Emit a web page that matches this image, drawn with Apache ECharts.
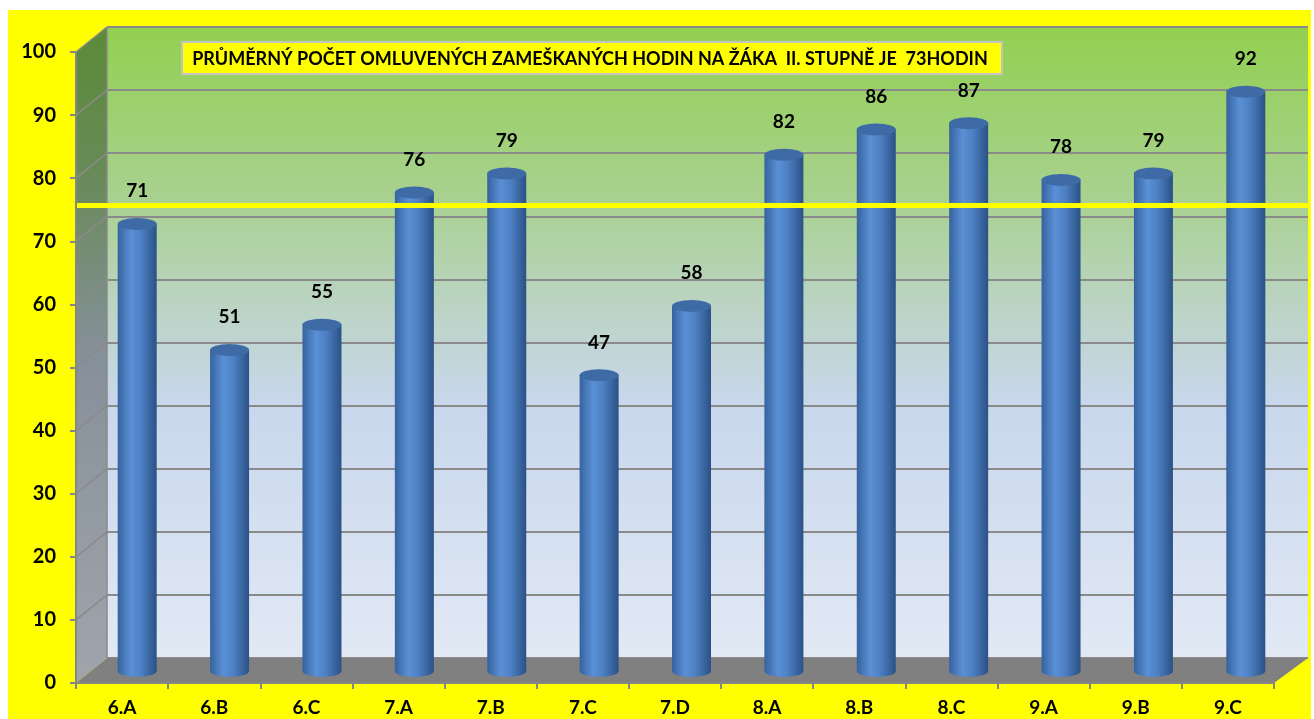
<!DOCTYPE html>
<html>
<head>
<meta charset="utf-8">
<title>Omluvené zameškané hodiny</title>
<script src="https://cdn.jsdelivr.net/npm/echarts@6/dist/echarts.min.js"></script>
<style>
    html, body { margin: 0; padding: 0; background: #fff; }
    #bg { position: absolute; left: 8px; top: 10px; width: 1303px; height: 709px; background: #ffff00; }
    #chart { position: absolute; left: 0; top: 0; width: 1314px; height: 719px; }
</style>
</head>
<body>
<div id="bg"></div>
<div id="chart"></div>
<script>
// data
const categories = ["6.A", "6.B", "6.C", "7.A", "7.B", "7.C", "7.D", "8.A", "8.B", "8.C", "9.A", "9.B", "9.C"];
const hours = [71, 51, 55, 76, 79, 47, 58, 82, 86, 87, 78, 79, 92];
const averageMark = [74];
const titleText = "PRŮMĚRNÝ POČET OMLUVENÝCH ZAMEŠKANÝCH HODIN NA ŽÁKA  II. STUPNĚ JE  73HODIN";

(function() {
    let chart = echarts.init(document.getElementById("chart"));
    let font = "Lato, 'Open Sans', sans-serif",
        grey = "#868686",
        W = 1314;

    // 3D look: front axes, back wall, cylinders in between
    let front = { left: 76, right: 40, top: 52, bottom: 36 },
        back = { left: 107, right: 6, top: 27, bottom: 61 },
        mid = { left: 91, right: 22, top: 41, bottom: 48 };

    let barFill = new echarts.graphic.LinearGradient(0, 0, 1, 0, [
        { offset: 0, color: "#36639f" },
        { offset: 0.35, color: "#5b90d6" },
        { offset: 0.6, color: "#4d80c3" },
        { offset: 1, color: "#2b5185" }
    ]);

    let option = {
        animation: false,
        grid: [
            Object.assign({
                show: true,
                borderWidth: 0,
                backgroundColor: new echarts.graphic.LinearGradient(0, 0, 0, 1, [
                    { offset: 0, color: "#92d050" },
                    { offset: 0.28, color: "#a9d192" },
                    { offset: 0.45, color: "#bcd4c6" },
                    { offset: 0.6, color: "#c8d7ec" },
                    { offset: 1, color: "#e2e9f5" }
                ])
            }, back),
            front,
            mid,
            { left: 76, right: 3, top: mid.top, bottom: mid.bottom }
        ],
        xAxis: [
            { gridIndex: 0, type: "category", data: categories, show: false },
            {
                gridIndex: 1,
                type: "category",
                data: categories,
                z: 5,
                axisLine: { lineStyle: { color: grey, width: 2 } },
                axisTick: { show: true, length: 6, lineStyle: { color: grey, width: 2 } },
                axisLabel: { color: "#000", fontFamily: font, fontWeight: "bold", fontSize: 19, margin: 15 }
            },
            { gridIndex: 2, type: "category", data: categories, show: false },
            { gridIndex: 3, type: "value", min: 0, max: 1, show: false }
        ],
        yAxis: [
            {
                gridIndex: 0,
                type: "value",
                min: 0,
                max: 100,
                interval: 10,
                axisLine: { show: false },
                axisTick: { show: false },
                axisLabel: { show: false },
                splitLine: { lineStyle: { color: "#8a8a8a", width: 2 } }
            },
            {
                gridIndex: 1,
                type: "value",
                min: 0,
                max: 100,
                interval: 10,
                z: 5,
                axisLine: { show: true, lineStyle: { color: grey, width: 2 } },
                axisTick: { show: true, length: 6, lineStyle: { color: grey, width: 2 } },
                axisLabel: { color: "#000", fontFamily: font, fontWeight: "bold", fontSize: 20, margin: 20 },
                splitLine: { show: false }
            },
            { gridIndex: 2, type: "value", min: 0, max: 100, show: false },
            { gridIndex: 3, type: "value", min: 0, max: 100, show: false }
        ],
        series: [
            {
                name: "dno",
                type: "pictorialBar",
                xAxisIndex: 2,
                yAxisIndex: 2,
                symbol: "circle",
                symbolSize: [39, 12],
                symbolPosition: "start",
                symbolOffset: [0, "50%"],
                itemStyle: { color: barFill },
                z: 2,
                data: hours
            },
            {
                name: "hodiny",
                type: "bar",
                xAxisIndex: 2,
                yAxisIndex: 2,
                barWidth: 39,
                itemStyle: { color: barFill },
                label: {
                    show: true,
                    position: "top",
                    distance: 23,
                    color: "#000",
                    fontFamily: font,
                    fontWeight: "bold",
                    fontSize: 19
                },
                z: 3,
                data: hours
            },
            {
                name: "víko",
                type: "pictorialBar",
                xAxisIndex: 2,
                yAxisIndex: 2,
                symbol: "circle",
                symbolSize: [39, 12],
                symbolPosition: "end",
                symbolOffset: [0, "-50%"],
                itemStyle: { color: "#3e6ba6", borderColor: "#4f7fbf", borderWidth: 1 },
                z: 4,
                data: hours
            },
            {
                name: "průměr",
                type: "line",
                xAxisIndex: 3,
                yAxisIndex: 3,
                data: [],
                z: 10,
                markLine: {
                    silent: true,
                    symbol: ["none", "none"],
                    label: { show: false },
                    lineStyle: { color: "#ffff00", width: 5, type: "solid" },
                    data: averageMark.map(v => ({ yAxis: v }))
                }
            }
        ]
    };
    chart.setOption(option);

    // side wall and floor, placed with the axes' own scales
    let yF = v => chart.convertToPixel({ yAxisIndex: 1 }, v),
        yB = v => chart.convertToPixel({ yAxisIndex: 0 }, v),
        xF0 = front.left,
        xF1 = W - front.right,
        xB0 = back.left,
        xB1 = W - back.right;

    let shapes = [
        {
            type: "polygon",
            z: 1,
            shape: { points: [[xF0, yF(100)], [xB0, yB(100)], [xB0, yB(0)], [xF0, yF(0)]] },
            style: {
                fill: new echarts.graphic.LinearGradient(0, 0, 0, 1, [
                    { offset: 0, color: "#5b8a36" },
                    { offset: 0.22, color: "#688a58" },
                    { offset: 0.5, color: "#86909a" },
                    { offset: 1, color: "#a0a5ac" }
                ])
            }
        },
        {
            type: "polygon",
            z: 1,
            shape: { points: [[xF0, yF(0)], [xB0, yB(0)], [xB1, yB(0)], [xF1, yF(0)]] },
            style: { fill: "#808080" }
        },
        {
            type: "line",
            z: 1,
            shape: { x1: xB0, y1: yB(100), x2: xB0, y2: yB(0) },
            style: { stroke: "#8a8a8a", lineWidth: 1.5 }
        }
    ];
    for (let v = 10; v <= 100; v += 10) {
        shapes.push({
            type: "line",
            z: 1,
            shape: { x1: xF0, y1: yF(v), x2: xB0, y2: yB(v) },
            style: { stroke: "#8a8a8a", lineWidth: 1.5 }
        });
    }

    // title box
    shapes.push({
        type: "rect",
        z: 6,
        shape: { x: 182, y: 42, width: 820, height: 32 },
        style: { fill: "#ffff00", stroke: "#c3c3c3", lineWidth: 2 }
    });
    shapes.push({
        type: "text",
        z: 7,
        x: 590,
        y: 59,
        style: {
            text: titleText,
            fill: "#000",
            font: "bold 18px " + font,
            align: "center",
            verticalAlign: "middle"
        }
    });

    chart.setOption({ graphic: shapes });
}());
</script>
</body>
</html>
